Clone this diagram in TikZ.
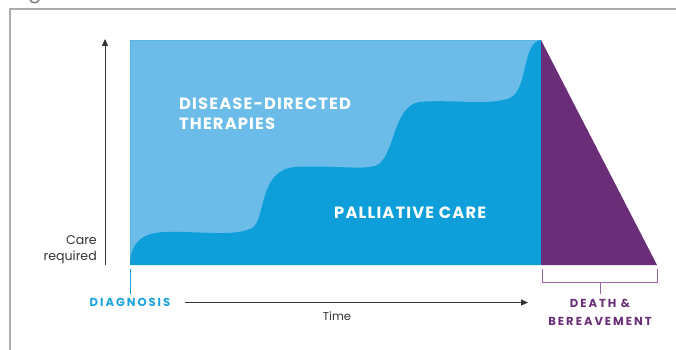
\documentclass[tikz,border=0pt]{standalone}
\usepackage{fontspec}
\setmainfont{Poppins}
\usetikzlibrary{arrows.meta}
\definecolor{lightblue}{HTML}{6BBCE8}
\definecolor{darkblue}{HTML}{0E9FDB}
\definecolor{diagblue}{HTML}{1AA3DE}
\definecolor{deathpurple}{HTML}{6A2E78}
\definecolor{bracketpurple}{HTML}{9468A4}
\definecolor{framegray}{HTML}{ABABAB}
\definecolor{axisgray}{HTML}{333333}
\tikzset{
  axisarrow/.style={draw=axisgray, line width=1pt, -{Triangle[length=7pt,width=6pt]}},
  bigwhite/.style={text=white, font=\fontsize{16.3}{20}\selectfont\bfseries\addfontfeature{LetterSpace=7}, inner sep=0pt, align=left},
  smalllabel/.style={text=axisgray, font=\fontsize{12.6}{16}\selectfont, inner sep=0pt},
  caplabel/.style={font=\fontsize{11.6}{18}\selectfont\bfseries\addfontfeature{LetterSpace=17}, inner sep=0pt, align=center},
}
\begin{document}
\begin{tikzpicture}[x=1pt,y=-1pt]
\useasboundingbox (0,0) rectangle (676,350);
% frame
\draw[framegray, line width=1.3pt] (10,352) -- (10,9) -- (678,9);
\node[text=gray, font=\fontsize{20}{20}\selectfont, anchor=base, inner sep=0pt] (fragment) at (35,-1.5) {g};
% light blue area
\fill[lightblue] (130,40) rectangle (541,265);
\draw[lightblue!80!darkblue, line width=0.6pt] (130,265) -- (130,40) -- (541,40);
% dark blue area
\fill[darkblue] (130,265) -- (130,262)
  .. controls (132,242) and (142,233) .. (165,232)
  .. controls (200,231) and (235,237) .. (252,228)
  .. controls (266,220) and (258,170) .. (295,167)
  .. controls (330,165) and (360,170) .. (375,166)
  .. controls (395,160) and (392,105) .. (420,102)
  .. controls (450,99) and (490,106) .. (510,98)
  .. controls (528,90) and (522,42) .. (541,40)
  -- (541,265) -- cycle;
% purple triangle
\fill[deathpurple] (541,40) -- (657,265) -- (541,265) -- cycle;
% labels in areas
\node[bigwhite, anchor=west] (ddt) at (179,113.5) {DISEASE-DIRECTED\\THERAPIES};
\node[bigwhite, anchor=west] (pc) at (334,212.5) {PALLIATIVE CARE};
% vertical axis
\coordinate (yb) at (105,265);
\coordinate (yt) at (105,39);
\draw[axisarrow] (yb) -- (yt);
\node[smalllabel, anchor=east, align=right] (care) at (97,250) {Care\\required};
% diagnosis
\coordinate (dtop) at (130,269);
\coordinate (dbot) at (130,294);
\draw[diagblue, line width=1pt] (dtop) -- (dbot);
\node[caplabel, text=diagblue] (diag) at (130,302.5) {DIAGNOSIS};
% time axis
\coordinate (ta) at (185,302.5);
\coordinate (tb) at (528,302.5);
\draw[axisarrow] (ta) -- (tb);
\node[smalllabel, font=\fontsize{11.5}{14}\selectfont] (time) at (337,316) {Time};
% bracket
\coordinate (bl) at (542,269);
\coordinate (br) at (657,269);
\coordinate (bm) at (600,282);
\coordinate (bs) at (600,294);
\draw[bracketpurple, line width=1pt] (bl) -- (542,282) -- (657,282) -- (br);
\draw[bracketpurple, line width=1pt] (bm) -- (bs);
\node[caplabel, text=deathpurple] (death) at (600,312) {DEATH \&\\BEREAVEMENT};
\end{tikzpicture}
\end{document}
